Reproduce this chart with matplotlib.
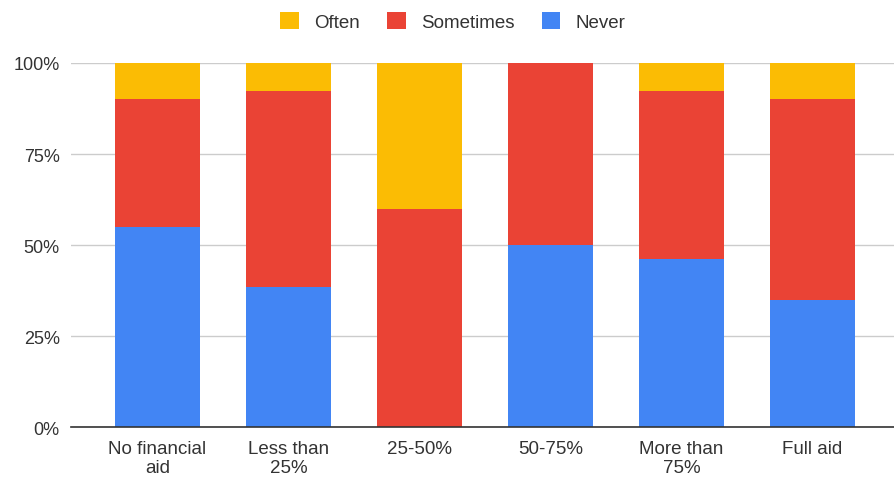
import matplotlib
matplotlib.use("Agg")
import matplotlib.pyplot as plt
from matplotlib.ticker import FixedLocator
from matplotlib.patches import Patch
import numpy as np

plt.rcParams['font.family'] = ['Liberation Sans', 'DejaVu Sans']

categories = ["No financial\naid", "Less than\n25%", "25-50%", "50-75%", "More than\n75%", "Full aid"]
never = [55.0, 38.5, 0.0, 50.0, 46.2, 35.0]
sometimes = [35.0, 53.8, 60.0, 50.0, 46.2, 55.0]
often = [10.0, 7.7, 40.0, 0.0, 7.6, 10.0]
series_names = ["Often", "Sometimes", "Never"]
y_ticks = [0, 25, 50, 75, 100]
y_tick_labels = ["0%", "25%", "50%", "75%", "100%"]

c_never = "#4285F4"
c_some = "#EA4335"
c_often = "#FBBC04"
text_color = "#333333"

fig = plt.figure(figsize=(8.95, 4.81), dpi=100)
ax = fig.add_axes([0.0793, 0.110, 0.9207, 0.757])

x = np.arange(len(categories))
w = 0.65
never_a = np.array(never)
some_a = np.array(sometimes)
often_a = np.array(often)
ax.bar(x, never_a, w, color=c_never, zorder=3, linewidth=0)
ax.bar(x, some_a, w, bottom=never_a, color=c_some, zorder=3, linewidth=0)
ax.bar(x, often_a, w, bottom=never_a + some_a, color=c_often, zorder=3, linewidth=0)

ax.set_xlim(-0.66, 5.63)
ax.set_ylim(0, 100)
ax.yaxis.set_major_locator(FixedLocator(y_ticks))
ax.set_yticklabels(y_tick_labels)
ax.set_xticks(x)
ax.set_xticklabels(categories, linespacing=1.15)

for s in ["top", "right", "left"]:
    ax.spines[s].set_visible(False)
ax.spines["bottom"].set_color("#333333")
ax.spines["bottom"].set_linewidth(1.2)
ax.spines["bottom"].set_zorder(4)

ax.grid(axis="y", color="#cccccc", linewidth=1, zorder=0)
ax.tick_params(axis="y", length=0, labelsize=13, colors=text_color, pad=8)
ax.tick_params(axis="x", length=0, labelsize=13.5, colors=text_color, pad=9)

handles = [Patch(facecolor=c, edgecolor="none") for c in (c_often, c_some, c_never)]
fig.legend(handles, series_names, loc="center", bbox_to_anchor=(0.506, 0.953), ncol=3,
           frameon=False, fontsize=13.5, handlelength=1.0, handleheight=1.0,
           handletextpad=0.8, columnspacing=1.45, labelcolor=text_color)

fig.savefig("out.png", dpi=100)
